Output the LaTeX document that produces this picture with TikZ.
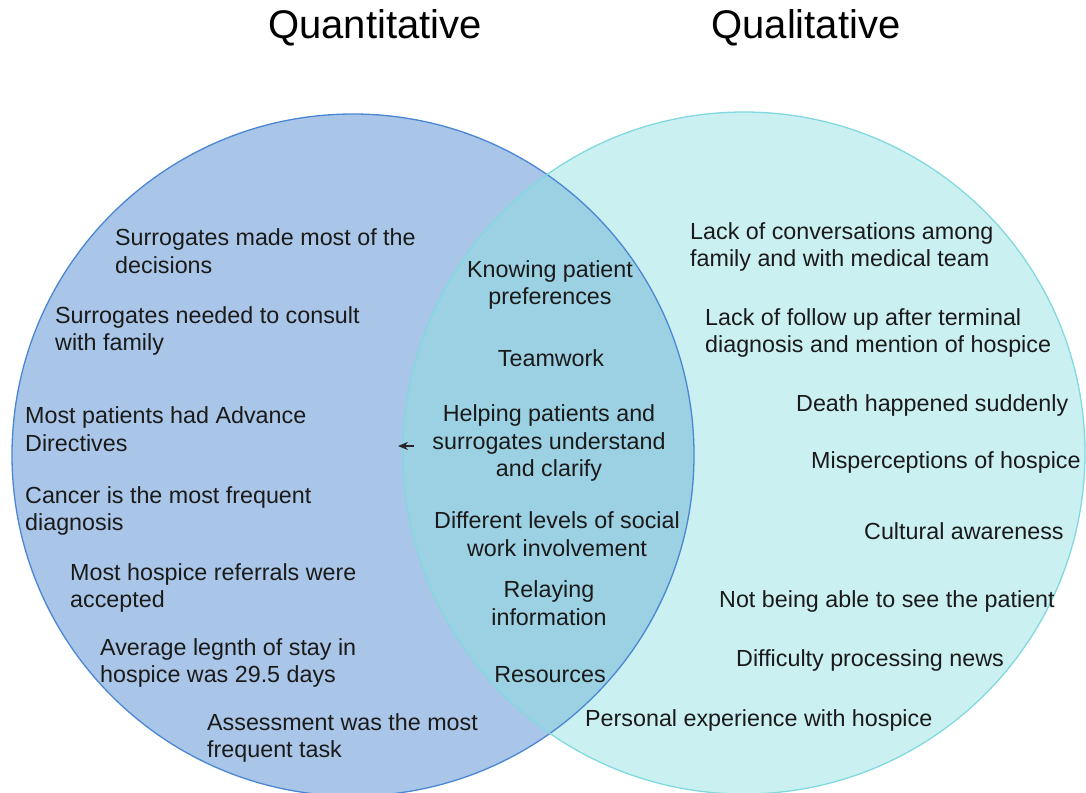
\documentclass[tikz,border=0pt]{standalone}
\usepackage{fontspec}
\setmainfont{Liberation Sans}
\usetikzlibrary{arrows.meta}
\definecolor{lfill}{RGB}{169,198,232}
\definecolor{lline}{RGB}{74,134,212}
\definecolor{rfill}{RGB}{203,240,242}
\definecolor{rline}{RGB}{128,217,222}
\definecolor{ofill}{RGB}{156,209,227}
\definecolor{txt}{RGB}{26,26,26}
\begin{document}
\begin{tikzpicture}[x=1pt,y=-1pt,
  lbl/.style={inner sep=0pt,text=txt,font=\fontsize{23.3}{27.6}\selectfont},
  lt/.style={lbl,anchor=west,align=left},
  ct/.style={lbl,anchor=center,align=center},
  ttl/.style={inner sep=0pt,text=black,font=\fontsize{40}{48}\selectfont}]
\useasboundingbox (0,0) rectangle (1086,792);
\coordinate (cl) at (353,455);
\coordinate (cr) at (744,453);
\fill[lfill] (cl) circle (341);
\fill[rfill] (cr) circle (341);
\begin{scope}
  \clip (cl) circle (341);
  \fill[ofill] (cr) circle (341);
\end{scope}
\draw[lline,line width=1.3pt] (cl) circle (341);
\draw[rline,line width=1.3pt] (cr) circle (341);

\node[ttl] (tq) at (375,28) {Quantitative};
\node[ttl] (tl) at (806,28) {Qualitative};

% left
\node[lt] (l1) at (115,251) {Surrogates made most of the\\decisions};
\node[lt] (l2) at (55,331) {Surrogates needed to consult\\with family};
\node[lt] (l3) at (25,429) {Most patients had Advance\\Directives};
\node[lt] (l4) at (25,511) {Cancer is the most frequent\\diagnosis};
\node[lt] (l5) at (70,588) {Most hospice referrals were\\accepted};
\node[lt] (l6) at (100,663) {Average legnth of stay in\\hospice was 29.5 days};
\node[lt] (l7) at (207,738) {Assessment was the most\\frequent task};

% middle
\node[ct] (m1) at (550,285) {Knowing patient\\preferences};
\node[ct] (m2) at (551,358) {Teamwork};
\node[ct] (m3) at (549,443) {Helping patients and\\surrogates understand\\and clarify};
\node[ct] (m4) at (557,534) {Different levels of social\\work involvement};
\node[ct] (m5) at (549,603) {Relaying\\information};
\node[ct] (m6) at (550,675) {Resources};

% right
\node[lt] (r1) at (690,247) {Lack of conversations among\\family and with medical team};
\node[lt] (r2) at (705,333) {Lack of follow up after terminal\\diagnosis and mention of hospice};
\node[lt] (r3) at (796,405) {Death happened suddenly};
\node[lt] (r4) at (811,462) {Misperceptions of hospice};
\node[lt] (r5) at (864,531) {Cultural awareness};
\node[lt] (r6) at (719,601) {Not being able to see the patient};
\node[lt] (r7) at (736,660) {Difficulty processing news};
\node[lt] (r8) at (585,720) {Personal experience with hospice};

\coordinate (as) at (414,446);
\coordinate (ae) at (398,446);
\draw[-{Stealth[length=10pt,width=8pt]},line width=1.6pt,draw=black!85] (as) -- (ae);
\end{tikzpicture}
\end{document}
